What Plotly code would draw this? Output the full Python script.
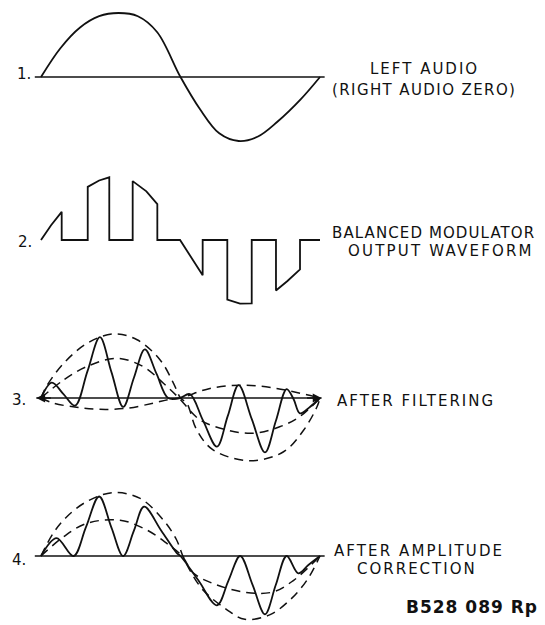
import plotly.graph_objects as go

# ---------------- data (x in degrees of the audio cycle, y in % of full amplitude) -------------
# Panel 1: left audio sine
p1_x = [0, 25, 50, 75, 100, 125, 150, 180, 205, 230, 255, 280, 305, 335, 360]
p1_y = [0, 45, 77, 95, 100, 95, 70, 0, -50, -88, -100, -93, -70, -35, 0]

# Panel 2: balanced modulator output (chopped audio)
p2_x = [0, 13, 26.7, 26.7, 60.3, 60.3, 75, 88.1, 88.1, 118.3, 118.3, 136, 150.1, 150.1,
        179.4, 194, 208.6, 208.6, 240.4, 240.4, 256.8, 271.9, 271.9, 303.2, 303.2, 318, 334.2, 334.2, 360]
p2_y = [0, 23, 44, 0, 0, 83, 93, 98, 0, 0, 92, 76, 56, 0,
        0, -28, -55, 0, 0, -93, -99.5, -99, 0, 0, -79, -64, -46, 0, 0]

# Panel 3: after filtering
p3_solid_x = [0, 14, 29, 44, 60, 76, 91, 106, 120, 134, 149, 164, 179, 192, 209, 227, 241, 255, 272, 289, 303, 317, 326, 334, 347, 360]
p3_solid_y = [0, 24, 6, -12, 42, 95, 40, -14, 32, 76, 38, 0, 0, 6, -35, -76, -28, 20, -33, -85, -36, 14, -2, -24, -14, 0]
p3_outer_x = [0, 7, 29, 59, 93, 124, 154, 171, 180, 188, 201, 222, 270, 313, 339, 356, 360]
p3_outer_y = [0, 18, 54, 85, 100, 91, 59, 23, 0, -8, -50, -81, -98, -84, -50, -14, 0]
p3_mid_x = [0, 29, 59, 98, 132, 158, 178, 205, 240, 274, 308, 334, 360]
p3_mid_y = [0, 28, 49, 62, 49, 23, 0, -34, -50, -55, -45, -29, 0]
p3_inner_x = [0, 16, 46, 76, 111, 145, 166, 180, 218, 261, 304, 343, 360]
p3_inner_y = [0, -8, -14.5, -17.7, -16, -8, -2, 0, 15, 20, 15, 5, 0]

# Panel 4: after amplitude correction
p4_solid_x = [0, 20, 42, 58, 75, 91, 106, 120, 133, 155, 175, 180, 203, 227, 242, 257, 273, 289, 303, 317, 332, 345, 360]
p4_solid_y = [0, 28, 0, 45, 93, 44, 0, 40, 77, 40, 5, 0, -38, -77, -38, 0, -45, -91, -45, 0, -27, -14, 0]
p4_outer_x = [0, 16, 33, 59, 93, 128, 158, 175, 183, 192, 209, 240, 263, 295, 321, 343, 360]
p4_outer_y = [0, 36, 61, 85, 99, 90, 56, 25, 0, -22, -53, -84, -99, -92, -69, -38, 0]
p4_mid_x = [0, 29, 59, 102, 136, 162, 182, 197, 222, 265, 300, 326, 351, 360]
p4_mid_y = [0, 30, 51, 56, 41, 20, 0, -27, -43, -57, -56, -38, -11, 0]

labels_num = ["1.", "2.", "3.", "4."]
captions = [["LEFT AUDIO", "(RIGHT AUDIO ZERO)"],
            ["BALANCED MODULATOR", "OUTPUT WAVEFORM"],
            ["AFTER FILTERING"],
            ["AFTER AMPLITUDE", "CORRECTION"]]
ref_code = "B528 089 Rp"

# ---------------- layout helpers ----------------
OFF = 8                                  # page body margin of the browser
W, H = 545 - OFF, 625 - OFF              # figure size inside the window
PX0, PX_PER_DEG = 41.0, 0.775            # window x pixel of 0 deg, pixels per degree
PX_PER_UNIT = 0.64                       # pixels per amplitude unit
HALF = 69                                # half height of each strip in px
baselines = [77, 240, 398, 556]          # baseline rows in window pixels

def px_x(px):
    return (px - OFF) / W

def px_y(py):
    return 1 - (py - OFF) / H

def domain_for(b):
    b = b - OFF
    return [max(0, 1 - (b + HALF) / H), min(1, 1 - (b - HALF) / H)]

x0 = PX0 - OFF
xr = [-x0 / PX_PER_DEG, (W - x0) / PX_PER_DEG]
yr = [-HALF / PX_PER_UNIT, HALF / PX_PER_UNIT]

INK = "#111111"
SOLID = dict(color=INK, width=1.8)
DASH = dict(color=INK, width=1.5, dash="9px,6px")
AXL = dict(color=INK, width=1.7)

fig = go.Figure()

def add(x, y, yaxis, line, shape="spline"):
    fig.add_trace(go.Scatter(x=x, y=y, mode="lines", xaxis="x", yaxis=yaxis,
                             line=dict(shape=shape, **line), hoverinfo="skip",
                             showlegend=False, cliponaxis=False))

AX_START, AX_END = -8, 366
# panel 1
add([AX_START, AX_END], [0, 0], "y", AXL, "linear")
add(p1_x, p1_y, "y", SOLID)
# panel 2
add(p2_x, p2_y, "y2", SOLID, "linear")
# panel 3
add([-6, 362], [0, 0], "y3", AXL, "linear")
add(p3_outer_x, p3_outer_y, "y3", DASH)
add(p3_mid_x, p3_mid_y, "y3", DASH)
add(p3_inner_x, p3_inner_y, "y3", DASH)
add(p3_solid_x, p3_solid_y, "y3", SOLID)
# panel 4
add([AX_START, AX_END], [0, 0], "y4", AXL, "linear")
add(p4_outer_x, p4_outer_y, "y4", DASH)
add(p4_mid_x, p4_mid_y, "y4", DASH)
add(p4_solid_x, p4_solid_y, "y4", SOLID)

ann = []
# arrow heads on panel 3 axis
for xh, off in [(-6, 16), (362, -16)]:
    ann.append(dict(x=xh, y=0, xref="x", yref="y3", ax=off, ay=0, text="",
                    showarrow=True, arrowhead=2, arrowsize=1.1, arrowwidth=1.6,
                    arrowcolor=INK))

FONT = dict(family="DejaVu Sans", size=15, color=INK)

def spaced(t, sp=1.6):
    return f'<span style="letter-spacing:{sp}px">{t}</span>'

num_pos = [(33, 74), (34, 242), (28, 400), (28, 560)]
for t, (px, py) in zip(labels_num, num_pos):
    ann.append(dict(x=px_x(px), y=px_y(py), xref="paper", yref="paper", text=t,
                    showarrow=False, xanchor="right", yanchor="middle", font=FONT))

# (left edge, centre row, letter spacing) of each caption line
cap_pos = [[(368, 69, 2.0), (330, 90, 1.4)],
           [(330, 233, 1.1), (346, 251, 2.2)],
           [(335, 401, 2.0)],
           [(332, 551, 2.1), (355, 569, 2.0)]]
for lines, poss in zip(captions, cap_pos):
    for t, (px, py, sp) in zip(lines, poss):
        ann.append(dict(x=px_x(px), y=px_y(py), xref="paper", yref="paper",
                        text=spaced(t, sp), showarrow=False, xanchor="left",
                        yanchor="middle", font=FONT))

ann.append(dict(x=px_x(404), y=px_y(607), xref="paper", yref="paper",
                text=spaced(f"<b>{ref_code}</b>", 1.0), showarrow=False,
                xanchor="left", yanchor="middle",
                font=dict(family="DejaVu Sans", size=17, color=INK)))

layout = dict(width=W, height=H, margin=dict(l=0, r=0, t=0, b=0),
              paper_bgcolor="white", plot_bgcolor="rgba(0,0,0,0)",
              showlegend=False, annotations=ann,
              xaxis=dict(range=xr, visible=False, domain=[0, 1], anchor="y", fixedrange=True))
for i, b in enumerate(baselines):
    key = "yaxis" if i == 0 else f"yaxis{i + 1}"
    layout[key] = dict(range=yr, domain=domain_for(b), visible=False, anchor="x", fixedrange=True)
fig.update_layout(**layout)

fig.write_html("out.html")
